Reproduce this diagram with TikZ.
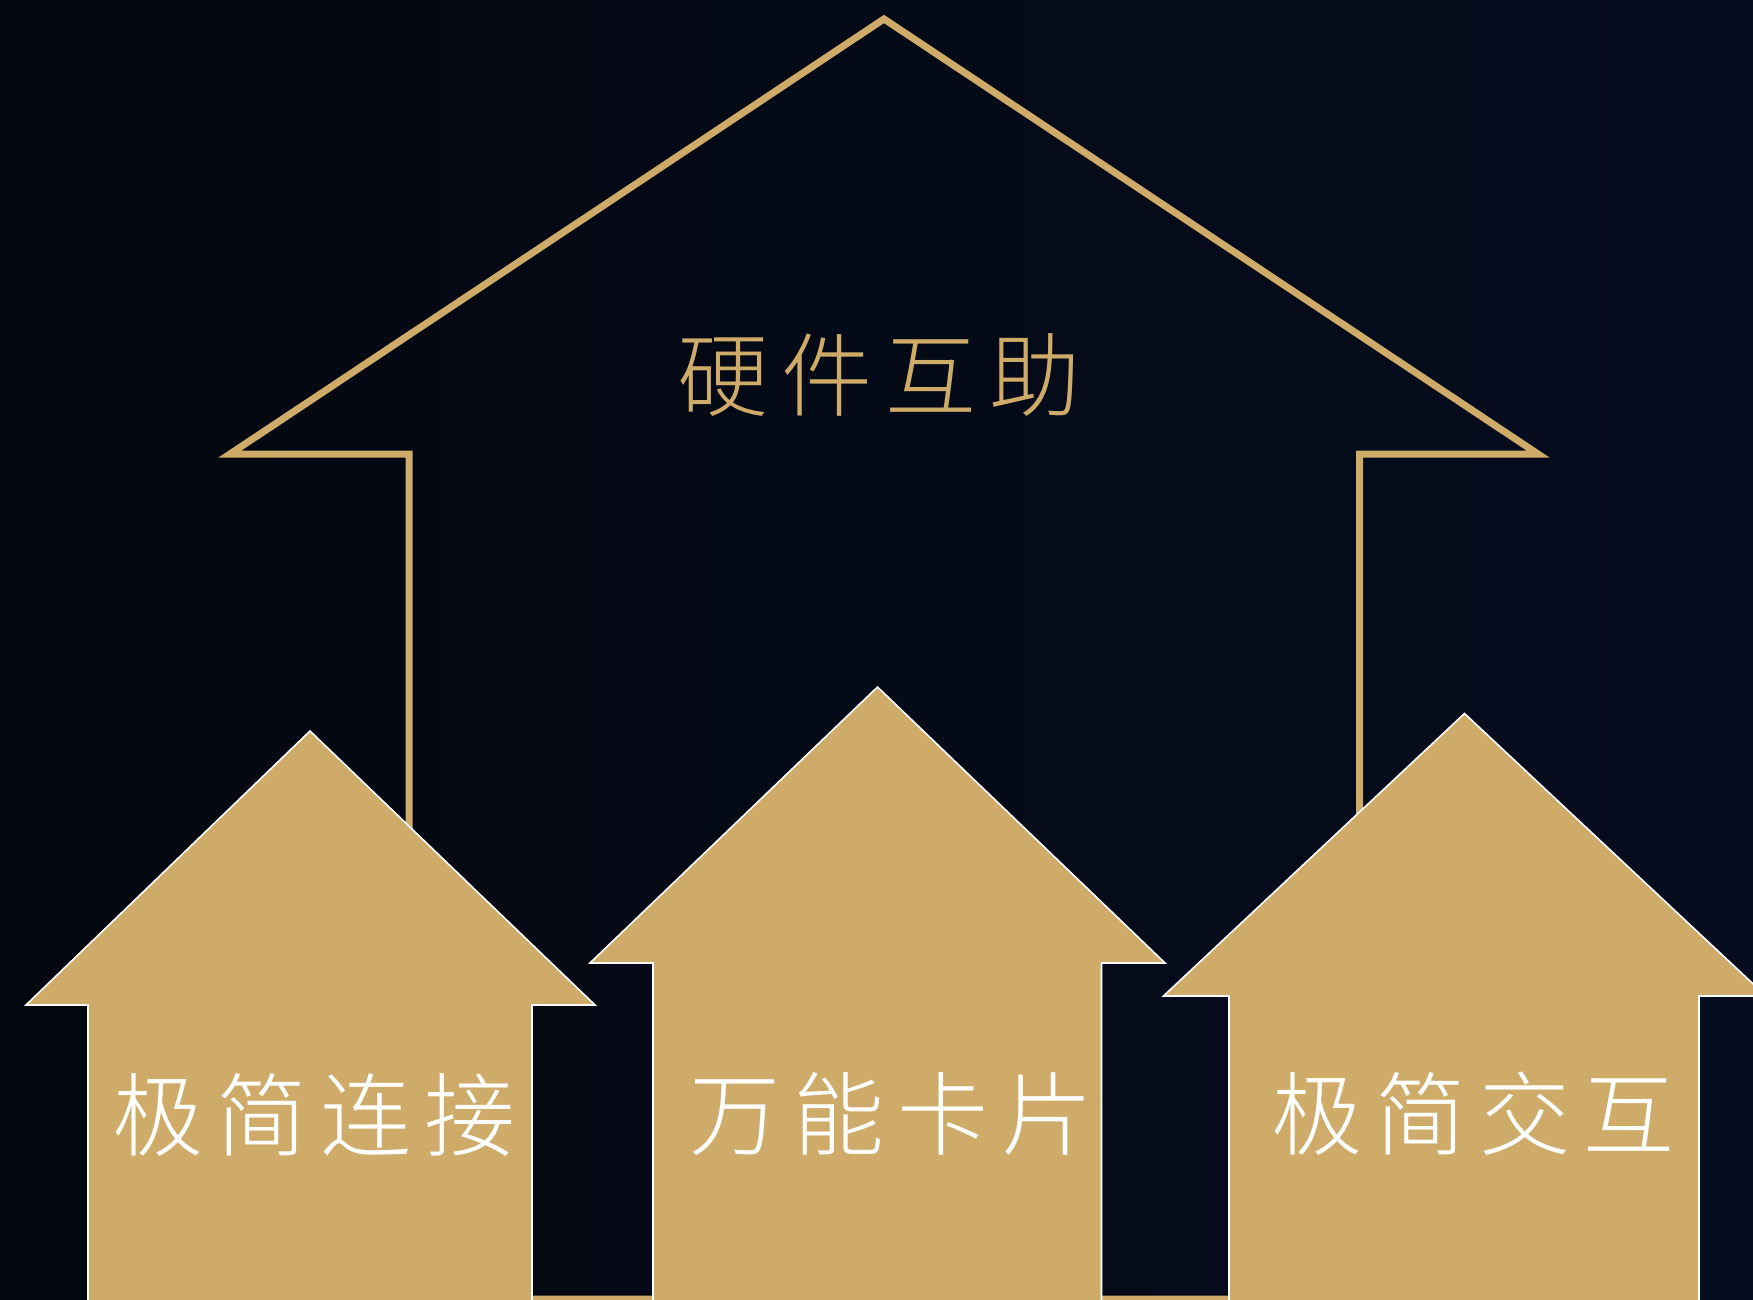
\documentclass[tikz,border=0pt]{standalone}
\usepackage{fontspec}
\newfontfamily\song{Noto Sans CJK SC Light}
\definecolor{bgL}{HTML}{03070F}
\definecolor{bgR}{HTML}{060D1F}
\definecolor{gold}{HTML}{CFAB69}
\begin{document}
\begin{tikzpicture}[x=1pt,y=-1pt,
  outlinearrow/.style={draw=gold,line width=7pt,line join=miter},
  goldarrow/.style={fill=gold,draw=white,line width=1.6pt,line join=miter},
  titletext/.style={inner sep=0pt,text=gold,font=\song\fontsize{91}{96}\selectfont},
  labeltext/.style={inner sep=0pt,text=white,font=\song\fontsize{91}{96}\selectfont}]
\useasboundingbox (0,0) rectangle (1753,1300);
\shade[left color=bgL,right color=bgR] (0,0) rectangle (1753,1300);
\clip (0,0) rectangle (1753,1300);
% big outline arrow
\draw[outlinearrow] (884,19) -- (1538,454) -- (1359.5,454) -- (1359.5,1299)
  -- (409,1299) -- (409,454) -- (230,454) -- cycle;
% left gold arrow
\draw[goldarrow] (310,731) -- (595,1005) -- (532,1005) -- (532,1320)
  -- (88,1320) -- (88,1005) -- (26,1005) -- cycle;
% middle gold arrow
\draw[goldarrow] (877.5,687) -- (1165,963) -- (1101.5,963) -- (1101.5,1320)
  -- (653,1320) -- (653,963) -- (590,963) -- cycle;
% right gold arrow
\draw[goldarrow] (1464.5,713.5) -- (1766,996) -- (1699,996) -- (1699,1320)
  -- (1229,1320) -- (1229,996) -- (1163.5,996) -- cycle;
\node[titletext] (title) at (879,375) {硬\kern13pt 件\kern13pt 互\kern13pt 助};
\node[labeltext] (l1) at (314,1115) {极\kern13pt 简\kern13pt 连\kern13pt 接};
\node[labeltext] (l2) at (891,1114) {万\kern13pt 能\kern13pt 卡\kern13pt 片};
\node[labeltext] (l3) at (1473,1114) {极\kern13pt 简\kern13pt 交\kern13pt 互};
\end{tikzpicture}
\end{document}
